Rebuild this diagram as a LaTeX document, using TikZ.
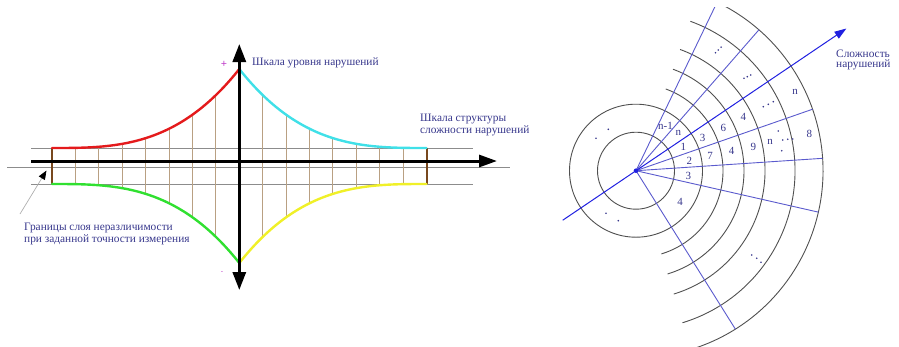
\documentclass[tikz,border=0pt]{standalone}
\usepackage{fontspec}
\setmainfont{Liberation Serif}
\usetikzlibrary{arrows.meta}
\definecolor{txt}{RGB}{55,55,140}
\definecolor{gridc}{RGB}{185,160,130}
\definecolor{brownc}{RGB}{120,72,30}
\definecolor{thinc}{RGB}{140,140,140}
\definecolor{redc}{RGB}{228,26,28}
\definecolor{cyanc}{RGB}{64,224,232}
\definecolor{greenc}{RGB}{48,224,48}
\definecolor{yellowc}{RGB}{240,240,40}
\definecolor{magc}{RGB}{190,60,200}
\definecolor{arcc}{RGB}{80,80,80}
\definecolor{rayc}{RGB}{90,90,205}
\definecolor{arrc}{RGB}{32,32,224}
\begin{document}
\begin{tikzpicture}[x=1bp,y=-1bp,
  lbl/.style={text=txt, font=\fontsize{11.4}{12}\selectfont, inner sep=0pt},
  num/.style={text=txt, font=\fontsize{11}{11}\selectfont, inner sep=0pt},
  thinline/.style={draw=thinc, line width=0.9bp},
  gridline/.style={draw=gridc, line width=0.9bp},
  boundline/.style={draw=brownc, line width=2bp},
  axisline/.style={draw=black, line width=3bp},
  curve/.style={line width=2.4bp, line cap=round, line join=round},
  arcline/.style={draw=arcc, line width=0.9bp},
  rayline/.style={draw=rayc, line width=0.9bp},
  dotc/.style={fill=txt}
]
\useasboundingbox (0,0) rectangle (899,346);

% ---------------- left diagram ----------------
\draw[thinline] (31,148) -- (473,148);
\draw[thinline] (31,184) -- (473,184);
\draw[thinline] (7,167) -- (510,167);

\foreach \k in {-7,...,-1,1,2,...,7} {
  \pgfmathsetmacro\xx{239.3+23.4*\k}
  \pgfmathsetmacro\hh{79*pow(1-abs(\k)*23.4/187.2,3)}
  \draw[gridline] (\xx,{148-\hh}) -- (\xx,{184+\hh});
}
\draw[boundline] (52.1,148) -- (52.1,184);
\draw[boundline] (426.5,148) -- (426.5,184);

\draw[curve, redc] plot[domain=52.1:239.3, samples=80] (\x, {148-79*pow(max(0,1-(239.3-\x)/187.2),3)});
\draw[curve, cyanc] plot[domain=239.3:426.5, samples=80] (\x, {148-79*pow(max(0,1-(\x-239.3)/187.2),3)});
\draw[curve, greenc] plot[domain=52.1:239.3, samples=80] (\x, {184+79*pow(max(0,1-(239.3-\x)/187.2),3)});
\draw[curve, yellowc] plot[domain=239.3:426.5, samples=80] (\x, {184+79*pow(max(0,1-(\x-239.3)/187.2),3)});

\coordinate (vtop) at (239.3,44);
\coordinate (vbot) at (239.3,290);
\coordinate (hleft) at (31,161);
\coordinate (hright) at (497,161);
\draw[axisline, -{Triangle[length=18bp,width=12bp]}] (hleft) -- (hright);
\draw[axisline, {Triangle[length=18bp,width=13bp]}-{Triangle[length=18bp,width=13bp]}] (vbot) -- (vtop);

\node[text=magc, font=\fontsize{11}{11}\selectfont\bfseries, inner sep=0pt] (plus) at (224,64) {+};
\node[text=magc, font=\fontsize{7}{7}\selectfont, inner sep=0pt] (minus) at (222,273) {-};

\node[lbl, anchor=west] (lvl) at (252,63) {Шкала уровня нарушений};
\node[lbl, anchor=west] (str1) at (420,119) {Шкала структуры};
\node[lbl, anchor=west] (str2) at (420,131) {сложности нарушений};
\node[lbl, anchor=west] (gr1) at (24,228) {Границы слоя неразличимости};
\node[lbl, anchor=west] (gr2) at (24,240) {при заданной точности измерения};

\coordinate (ptrA) at (20,214);
\coordinate (ptrB) at (46.5,170.5);
\draw[draw=thinc!70, line width=0.7bp, -{Triangle[length=9bp,width=7bp,color=black]}] (ptrA) -- (ptrB);

% ---------------- right diagram ----------------
\begin{scope}
\clip (540,7) rectangle (899,346);
\begin{scope}[shift={(636,170.7)}, yscale=-1]
  \coordinate (ctr) at (0,0);
  \draw[arcline] (ctr) circle[radius=38.5];
  \draw[arcline] (ctr) circle[radius=66.5];
  \foreach \r in {87,108,129,159,187}
    \draw[arcline] (-73:\r) arc[start angle=-73, end angle=70, radius=\r];
  \foreach \a in {64.3,48.9,19.2,3.8,-12.8,-57.9}
    \draw[rayline] (ctr) -- (\a:187);
  \coordinate (arrStart) at (214.05:88.5);
  \coordinate (arrEnd) at (34.05:254);
  \draw[draw=arrc, line width=1bp, -{Triangle[length=12bp,width=8bp]}] (arrStart) -- (arrEnd);
  \fill[arrc] (ctr) circle[radius=2.3];
\end{scope}
\end{scope}

\node[lbl, anchor=west] (sl1) at (836,53.3) {Сложность};
\node[lbl, anchor=west] (sl2) at (836,65) {нарушений};

% numbers
\node[num] (a1) at (665.5,125.5) {n-1};
\node[num] (a2) at (678.3,133.3) {n};
\node[num] (a3) at (683.3,146.7) {1};
\node[num] (a4) at (689.3,160.7) {2};
\node[num] (a5) at (688.3,176) {3};
\node[num] (a6) at (680,202.3) {4};
\node[num] (b1) at (702.7,137.7) {3};
\node[num] (b2) at (710,155.7) {7};
\node[num] (c1) at (723.3,127.7) {6};
\node[num] (c2) at (731.7,151) {4};
\node[num] (d1) at (743.3,116.7) {4};
\node[num] (d2) at (753.3,147.3) {9};
\node[num] (e1) at (770,141.7) {n};
\node[num] (f1) at (795,92.3) {n};
\node[num] (f2) at (809.3,134) {8};

% dots
\foreach \p in {(596,138.3),(608.3,129.3),(606,213.3),(618.3,220.7),
  (715.5,52.8),(718.3,50),(721.1,47.2),
  (744,78.3),(747.3,76.7),(750.7,75),
  (763.3,106.7),(768.3,104.3),(773.3,101.7),
  (751.7,255),(756.7,258.3),(761,262.3),
  (778.3,131),(781.7,150.7),(782.7,140),(787.7,139.3),(792.7,139)}
  \fill[dotc] \p circle[radius=0.9];
\end{tikzpicture}
\end{document}
